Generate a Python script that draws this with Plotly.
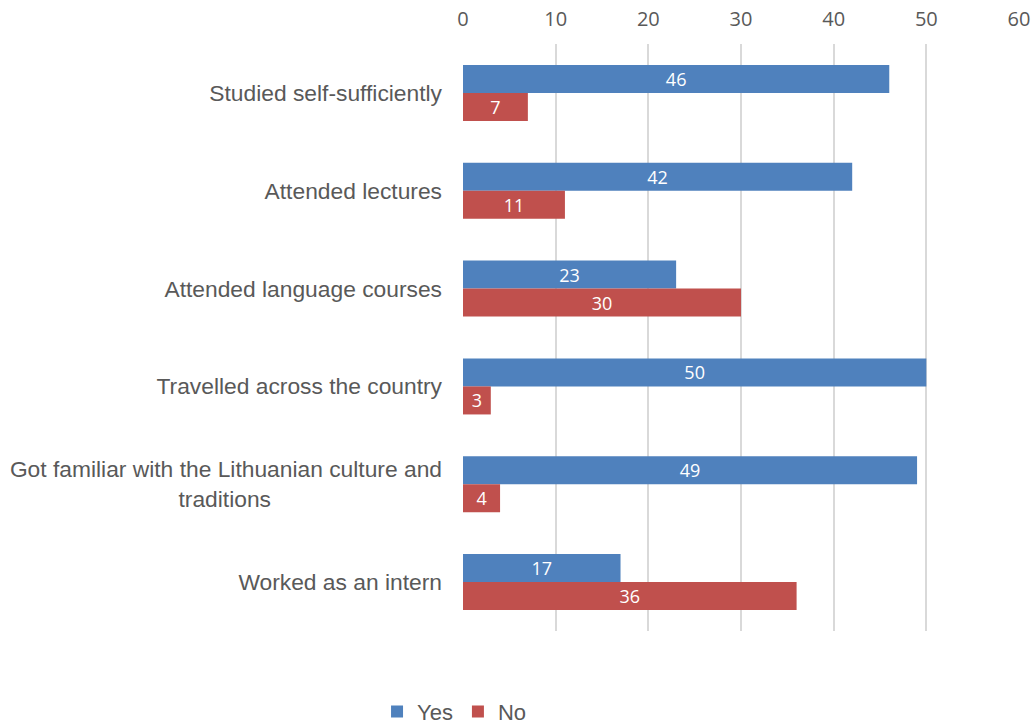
import plotly.graph_objects as go

NB = "\u00a0"
categories = [
    "Studied self-sufficiently",
    "Attended lectures",
    "Attended language courses",
    "Travelled across the country",
    "Got familiar with the Lithuanian culture and<br>traditions" + NB * 27,
    "Worked as an intern",
]
yes_values = [46, 42, 23, 50, 49, 17]
no_values = [7, 11, 30, 3, 4, 36]
x_ticks = [0, 10, 20, 30, 40, 50, 60]

label_font = dict(color="white", size=18, family="Open Sans")

fig = go.Figure()
fig.add_trace(go.Bar(
    name="Yes", y=categories, x=yes_values, orientation="h",
    marker=dict(color="#4F81BD", line=dict(width=0)),
    text=yes_values, textposition="inside", insidetextanchor="middle",
    constraintext="none", textangle=0, textfont=label_font,
))
fig.add_trace(go.Bar(
    name="No", y=categories, x=no_values, orientation="h",
    marker=dict(color="#C0504D", line=dict(width=0)),
    text=no_values, textposition="inside", insidetextanchor="middle",
    constraintext="none", textangle=0, textfont=label_font,
))

fig.update_layout(
    width=1031, height=727,
    margin=dict(l=463, r=12, t=44, b=96, autoexpand=False),
    paper_bgcolor="white", plot_bgcolor="white",
    barmode="group", bargap=0.427, bargroupgap=0,
    showlegend=True,
    legend=dict(orientation="h", xref="container", yref="container",
                x=0.3657, xanchor="left", y=0.021, yanchor="middle",
                font=dict(size=22, family="Liberation Sans", color="#595959"),
                itemwidth=30, traceorder="normal", itemclick=False),
    xaxis=dict(
        side="top", range=[0, 60], tickvals=x_ticks, automargin=False,
        showgrid=True, gridcolor="#D9D9D9", gridwidth=2,
        zeroline=False, showline=False,
        tickfont=dict(size=20, family="Open Sans", color="#595959"),
        ticks="", ticklabelstandoff=13,
    ),
    yaxis=dict(
        autorange="reversed", showgrid=False, zeroline=False, showline=False,
        automargin=False,
        tickfont=dict(size=22.8, family="Liberation Sans", color="#595959"),
        ticks="", ticklabelstandoff=20,
    ),
)

fig.write_html(
    "out.html",
    config={"displayModeBar": False},
    post_script="document.body.style.margin='0';document.body.style.overflow='hidden';",
)
